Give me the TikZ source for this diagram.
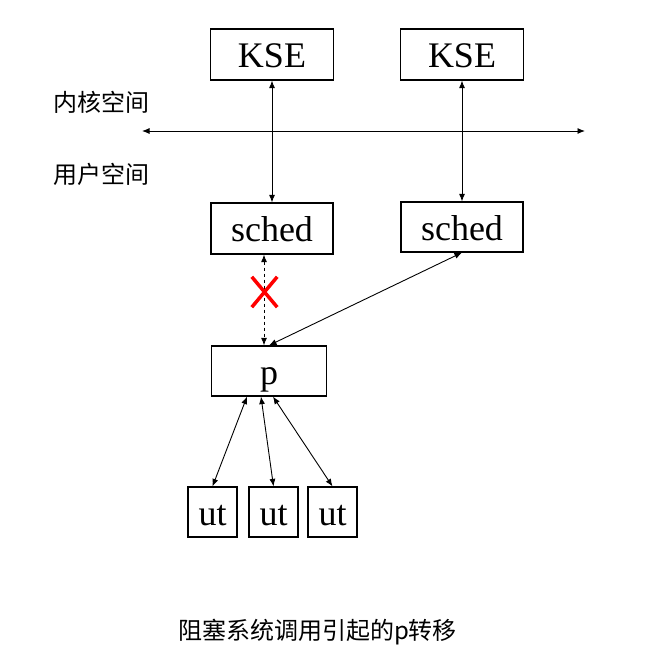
\documentclass[tikz,border=0pt]{standalone}
\usepackage{fontspec}
\setmainfont{Liberation Serif}
\newfontfamily\cjk{Noto Sans CJK SC}
\usetikzlibrary{arrows.meta,calc}
\begin{document}
\begin{tikzpicture}[x=1pt,y=-1pt,
  box/.style={draw,line width=1.2pt,inner sep=0pt,text height=30pt,text depth=4pt,font=\fontsize{36}{40}\selectfont},
  conn/.style={line width=0.9pt,{Latex[length=7.5pt,width=6pt]}-{Latex[length=7.5pt,width=6pt]}},
  lbl/.style={font=\cjk\fontsize{24}{28}\selectfont,inner sep=0pt}]
\useasboundingbox[fill=white] (0,0) rectangle (658,666);
\node[box,minimum width=123pt,minimum height=51pt] (kse1) at (272,54.5) {KSE};
\node[box,minimum width=123pt,minimum height=51pt] (kse2) at (462,54.5) {KSE};
\node[box,minimum width=122pt,minimum height=51pt] (sched1) at (272,228.5) {sched};
\node[box,minimum width=122pt,minimum height=50pt] (sched2) at (462,227) {sched};
\node[box,minimum width=115pt,minimum height=50pt] (p) at (269,371) {p};
\node[box,minimum width=49pt,minimum height=50pt] (ut1) at (212.5,512) {ut};
\node[box,minimum width=49pt,minimum height=50pt] (ut2) at (273.5,512) {ut};
\node[box,minimum width=49pt,minimum height=50pt] (ut3) at (332.5,512) {ut};
\coordinate (L) at (142,131);
\coordinate (R) at (585,131);
\coordinate (dx) at (264,0);
\node[lbl] (kern) at (101,102) {内核空间};
\node[lbl] (user) at (101,174) {用户空间};
\node[lbl] (cap) at (317.5,632) {阻塞系统调用引起的p转移};
\draw[conn] (L) -- (R);
\draw[conn] (kse1) -- (sched1);
\draw[conn] (kse2) -- (sched2);
\draw[conn,dashed] (sched1.south -| dx) -- (p.north -| dx);
\draw[conn] (sched2.south) -- (p.north);
\draw[conn] ($(p.south)+(-22,0)$) -- (ut1.north);
\draw[conn] ($(p.south)+(-8,0)$) -- (ut2.north);
\draw[conn] ($(p.south)+(4,0)$) -- (ut3.north);
\node[inner sep=0pt,minimum width=25pt,minimum height=30pt] (xmark) at (264.5,292) {};
\draw[red,line width=3.5pt] (xmark.north west) -- (xmark.south east) (xmark.north east) -- (xmark.south west);
\end{tikzpicture}
\end{document}
